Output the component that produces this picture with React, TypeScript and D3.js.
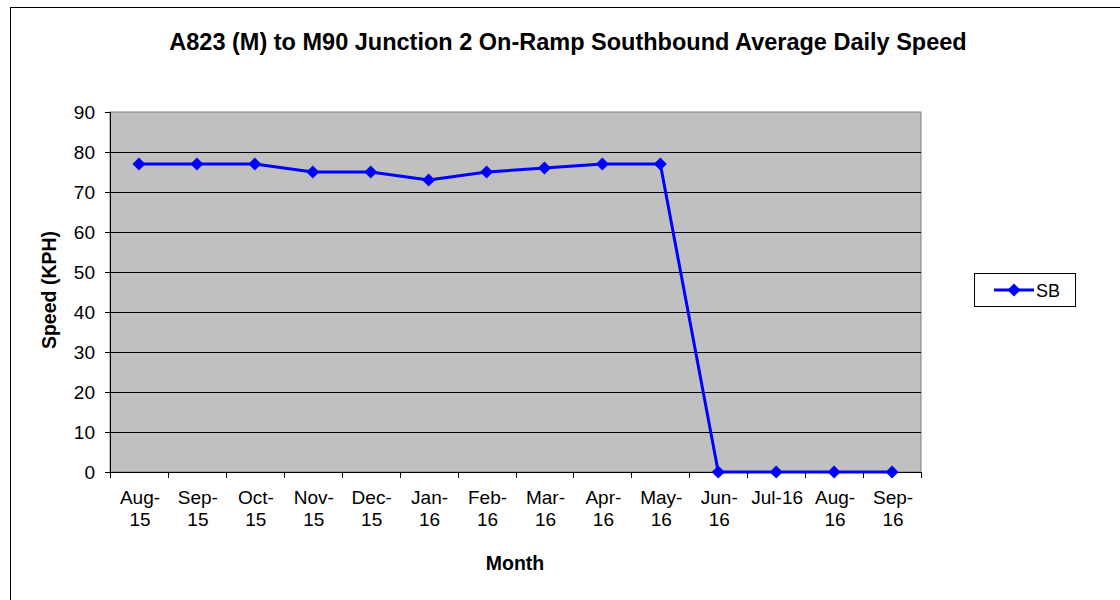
import React from "react";
import * as d3 from "d3";

const categories: string[][] = [
  ["Aug-", "15"], ["Sep-", "15"], ["Oct-", "15"], ["Nov-", "15"], ["Dec-", "15"],
  ["Jan-", "16"], ["Feb-", "16"], ["Mar-", "16"], ["Apr-", "16"], ["May-", "16"],
  ["Jun-", "16"], ["Jul-16"], ["Aug-", "16"], ["Sep-", "16"],
];
const sbValues: number[] = [77, 77, 77, 75, 75, 73, 75, 76, 77, 77, 0, 0, 0, 0];
const yTicks: number[] = [0, 10, 20, 30, 40, 50, 60, 70, 80, 90];
const seriesName = "SB";
const title = "A823 (M) to M90 Junction 2 On-Ramp Southbound Average Daily Speed";

const W = 1120, H = 600;
const plot = { left: 110, right: 921, top: 112, bottom: 472 };
const FONT = "'Liberation Sans', Arial, sans-serif";

export default function App() {
  const keys = categories.map((_, i) => String(i));
  const x = d3.scaleBand<string>().domain(keys).range([plot.left, plot.right]);
  const y = d3.scaleLinear().domain([0, 90]).range([plot.bottom, plot.top]);
  const cx = (i: number) => (x(String(i)) as number) + x.bandwidth() / 2;
  const line = d3.line<number>().x((_, i) => cx(i)).y((d) => y(d));
  const diamond = (px: number, py: number, r: number) =>
    `M${px},${py - r}L${px + r},${py}L${px},${py + r}L${px - r},${py}Z`;

  return (
    <svg width={W} height={H} style={{ position: "absolute", left: 0, top: 0, display: "block" }}>
      <rect x={0} y={0} width={W} height={H} fill="#fff" />
      <rect x={10.5} y={7.5} width={W + 10} height={H + 10} fill="none" stroke="#000" strokeWidth={1} />
      <text x={568} y={50} textAnchor="middle" fontFamily={FONT} fontSize={23.5} fontWeight="bold" fill="#000">
        {title}
      </text>
      <rect x={plot.left} y={plot.top} width={plot.right - plot.left} height={plot.bottom - plot.top}
        fill="#c0c0c0" stroke="#808080" strokeWidth={1} />
      {yTicks.filter((t) => t > 0 && t < 90).map((t) => (
        <line key={t} x1={plot.left} x2={plot.right} y1={Math.round(y(t)) + 0.5} y2={Math.round(y(t)) + 0.5}
          stroke="#000" strokeWidth={1} />
      ))}
      {/* y axis */}
      <line x1={plot.left + 0.5} x2={plot.left + 0.5} y1={plot.top} y2={plot.bottom} stroke="#000" />
      {yTicks.map((t) => (
        <g key={t}>
          <line x1={plot.left - 5} x2={plot.left} y1={Math.round(y(t)) + 0.5} y2={Math.round(y(t)) + 0.5} stroke="#000" />
          <text x={95} y={y(t) + 7} textAnchor="end" fontFamily={FONT} fontSize={19} fill="#000">{t}</text>
        </g>
      ))}
      {/* x axis */}
      <line x1={plot.left} x2={plot.right} y1={plot.bottom + 0.5} y2={plot.bottom + 0.5} stroke="#000" />
      {keys.concat([String(keys.length)]).map((k, i) => {
        const xx = i < keys.length ? (x(k) as number) : plot.right;
        return <line key={"t" + i} x1={Math.round(xx) + 0.5} x2={Math.round(xx) + 0.5} y1={plot.bottom} y2={plot.bottom + 6} stroke="#000" />;
      })}
      {categories.map((lines, i) => (
        <text key={"c" + i} x={cx(i) + 1} y={504} textAnchor="middle" fontFamily={FONT} fontSize={19} fill="#000">
          {lines.map((l, j) => (
            <tspan key={j} x={cx(i) + 1} dy={j === 0 ? 0 : 22}>{l}</tspan>
          ))}
        </text>
      ))}
      <text x={515} y={570} textAnchor="middle" fontFamily={FONT} fontSize={19.5} fontWeight="bold" fill="#000">Month</text>
      <text transform={`translate(56,290) rotate(-90)`} textAnchor="middle" fontFamily={FONT} fontSize={19.5}
        fontWeight="bold" fill="#000">Speed (KPH)</text>
      {/* series */}
      <path d={line(sbValues) || ""} fill="none" stroke="#0000ff" strokeWidth={3} strokeLinejoin="round" />
      {sbValues.map((v, i) => (
        <path key={"m" + i} d={diamond(cx(i), y(v), 6.5)} fill="#0000ff" />
      ))}
      {/* legend */}
      <rect x={974.5} y={273.5} width={101} height={33} fill="#fff" stroke="#000" strokeWidth={1} />
      <line x1={994} x2={1034} y1={290} y2={290} stroke="#0000ff" strokeWidth={3} />
      <path d={diamond(1014, 290, 6.5)} fill="#0000ff" />
      <text x={1036} y={297} fontFamily={FONT} fontSize={18} fill="#000">{seriesName}</text>
    </svg>
  );
}
